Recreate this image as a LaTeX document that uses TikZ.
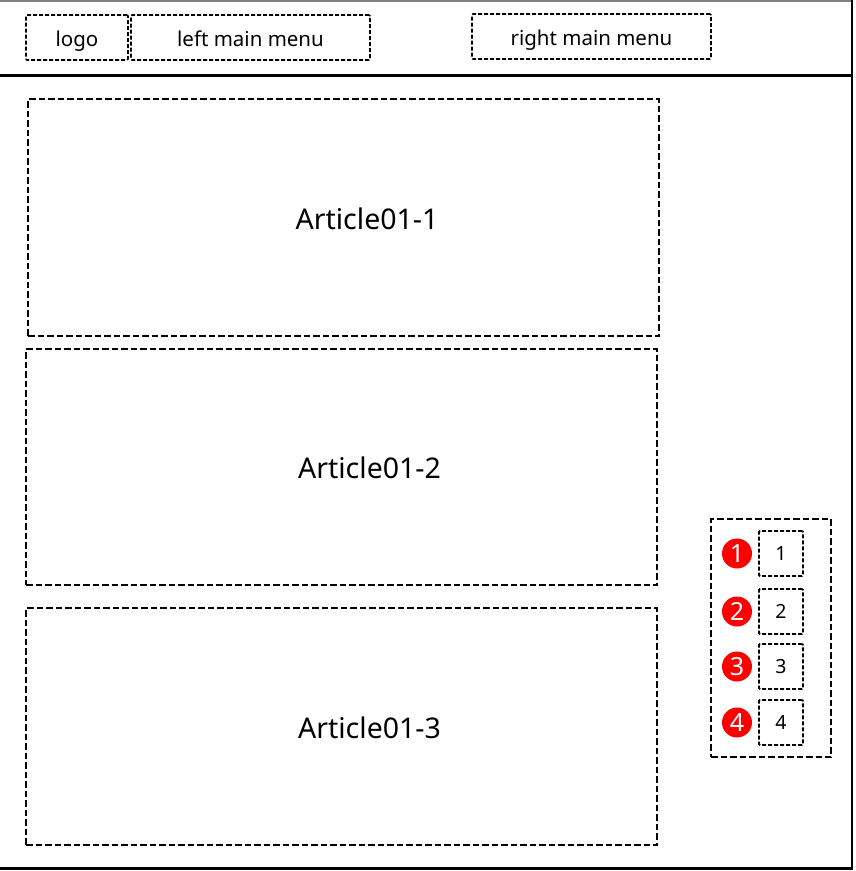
\documentclass[tikz,border=0pt]{standalone}
\usepackage{fontspec}
\setmainfont{Noto Sans}
\begin{document}
\begin{tikzpicture}[
    x=1pt, y=-1pt,
    box/.style={draw, dash pattern=on 4pt off 2pt, line width=1.7pt,
      rounded corners=1pt, inner sep=0pt, text height=17pt, text depth=0pt,
      font=\fontsize{20.5}{22}\selectfont},
    article/.style={draw, dash pattern=on 6.5pt off 3pt, line width=2.6pt,
      inner sep=0pt},
    heading/.style={font=\fontsize{28.5}{30}\selectfont},
    navbox/.style={draw, dash pattern=on 4pt off 2pt, line width=1.8pt,
      rounded corners=1pt, minimum width=44pt, minimum height=45pt,
      inner sep=0pt, font=\fontsize{19.5}{21}\selectfont},
    badge/.style={circle, fill=red, text=white, minimum size=30pt,
      inner sep=0pt, font=\fontsize{25}{26}\selectfont},
    ]
    \useasboundingbox (0,0) rectangle (856,871);
    % page frame
    \draw[gray, line width=1.2pt] (0,1) -- (852,1);
    \draw[line width=2.4pt] (852,0) -- (852,868);
    \draw[line width=3pt] (0,868) -- (853,868);
    \draw[line width=3pt] (0,75) -- (853,75);
    % header
    \node[box, minimum width=102pt, minimum height=45pt] (logo) at (77,37.5) {logo};
    \node[box, minimum width=239pt, minimum height=45pt] (leftmenu) at (250.5,37.5) {left main menu};
    \node[box, minimum width=239pt, minimum height=45pt] (rightmenu) at (591.5,36.5) {right main menu};
    % articles
    \node[article, minimum width=631pt, minimum height=237pt,
      label={[heading, xshift=23.5pt, yshift=-1pt]center:Article01-1}] (art1) at (343.5,217.5) {};
    \node[article, minimum width=631pt, minimum height=236pt,
      label={[heading, xshift=28pt, yshift=-1pt]center:Article01-2}] (art2) at (341.5,467) {};
    \node[article, minimum width=631pt, minimum height=237pt,
      label={[heading, xshift=28pt, yshift=-1pt]center:Article01-3}] (art3) at (341.5,726.5) {};
    % side navigation
    \node[article, line width=2.4pt, minimum width=120pt, minimum height=238pt] (nav) at (771,638) {};
    \foreach \i/\y in {1/553.5, 2/611.5, 3/666.5, 4/722.5} {
      \node[navbox] (page\i) at (781,\y) {\i};
      \node[badge] (dot\i) at (737,\y) {\i};
    }
  \end{tikzpicture}
\end{document}
